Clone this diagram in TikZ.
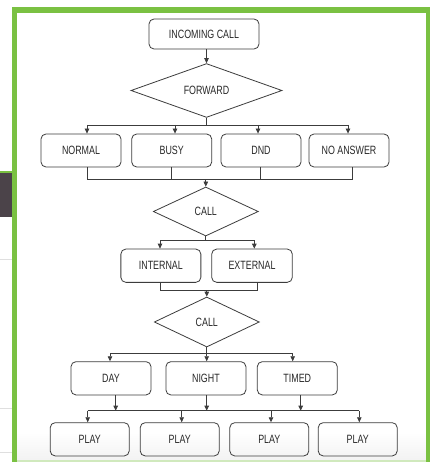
\documentclass[tikz,border=0pt]{standalone}
\usepackage{fontspec}
\newfontfamily\lblfont[FakeStretch=0.74]{Liberation Sans}
\usetikzlibrary{shapes.geometric,arrows.meta}
\definecolor{frameGreen}{RGB}{122,193,66}
\definecolor{darkbox}{RGB}{75,67,73}
\definecolor{linegray}{RGB}{60,60,60}
\definecolor{textgray}{RGB}{40,40,40}
\tikzset{
  lbl/.style={font=\lblfont\fontsize{12}{14}\selectfont, text=textgray},
  box/.style={lbl, draw=linegray, line width=0.8pt, rounded corners=5pt, minimum width=80pt, minimum height=33pt, inner sep=0pt},
  dia/.style={lbl, draw=linegray, line width=0.8pt, shape=diamond, inner sep=0pt},
  conn/.style={draw=linegray, line width=0.8pt},
  arr/.style={conn, -{Triangle[length=5pt,width=4.5pt]}}
}
\begin{document}
\begin{tikzpicture}[x=1pt,y=-1pt]
\useasboundingbox (0,0) rectangle (430,462);
\fill[white] (0,0) rectangle (430,462);
% outside decorations (left)
\fill[darkbox] (0,172.7) rectangle (11.7,217);
\fill[frameGreen] (0,171.5) rectangle (11.7,173);
\draw[gray!25, line width=0.8pt] (0,259) -- (11.7,259);
\draw[gray!25, line width=0.8pt] (0,408) -- (11.7,408);
\draw[gray!25, line width=0.8pt] (0,452.5) -- (11.7,452.5);
% bottom shading inside frame
\shade[top color=white, bottom color=gray!10] (16.7,432) rectangle (425.7,460);
% green frame
\fill[frameGreen] (11.7,7.3) rectangle (430,13.3);
\fill[frameGreen] (11.7,7.3) rectangle (16.7,462);
\fill[frameGreen] (425.7,7.3) rectangle (430,462);
\fill[frameGreen!35] (16.7,460.3) rectangle (425.7,462);

% nodes
\node[box, minimum width=110pt, minimum height=30pt] (inc) at (204,34) {INCOMING CALL};
\node[dia, minimum width=151pt, minimum height=49pt] (d1) at (206.5,90.5) {FORWARD};

\node[box] (normal) at (81,150.5) {NORMAL};
\node[box] (busy) at (171.7,150.5) {BUSY};
\node[box] (dnd) at (261,150.5) {DND};
\node[box] (noans) at (349,150.5) {NO ANSWER};

\node[dia, minimum width=105pt, minimum height=49pt] (d2) at (205.8,211.5) {CALL};

\node[box, minimum height=33.3pt] (internal) at (160.85,265.7) {INTERNAL};
\node[box, minimum height=33.3pt, minimum width=80.6pt] (external) at (252,265.7) {EXTERNAL};

\node[dia, minimum width=105pt, minimum height=50pt] (d3) at (206.8,322) {CALL};

\node[box, minimum height=33.3pt] (day) at (111,378.3) {DAY};
\node[box, minimum height=33.3pt] (night) at (205.9,378.3) {NIGHT};
\node[box, minimum height=33.3pt] (timed) at (297.3,378.3) {TIMED};

\node[box, minimum height=33.3pt, minimum width=79pt] (p1) at (89.7,439.3) {PLAY};
\node[box, minimum height=33.3pt, minimum width=79pt] (p2) at (179.7,439.3) {PLAY};
\node[box, minimum height=33.3pt, minimum width=79pt] (p3) at (269.3,439.3) {PLAY};
\node[box, minimum height=33.3pt, minimum width=79pt] (p4) at (357.7,439.3) {PLAY};

% connectors: incoming -> forward
\draw[arr] (d1.north |- inc.south) -- (d1.north);

% forward -> row 1
\coordinate (b1) at (206.5,125);
\coordinate (t1a) at (87,125);
\coordinate (t1b) at (175,125);
\coordinate (t1c) at (258,125);
\coordinate (t1d) at (348,125);
\draw[conn] (d1.south) -- (b1);
\draw[conn] (t1a) -- (t1d);
\draw[arr] (t1a) -- (t1a |- normal.north);
\draw[arr] (t1b) -- (t1b |- busy.north);
\draw[arr] (t1c) -- (t1c |- dnd.north);
\draw[arr] (t1d) -- (t1d |- noans.north);

% row 1 -> call
\coordinate (u1a) at (87,179.3);
\coordinate (u1b) at (171.7,179.3);
\coordinate (u1c) at (260.7,179.3);
\coordinate (u1d) at (352.7,179.3);
\draw[conn] (u1a |- normal.south) -- (u1a);
\draw[conn] (u1b |- busy.south) -- (u1b);
\draw[conn] (u1c |- dnd.south) -- (u1c);
\draw[conn] (u1d |- noans.south) -- (u1d);
\draw[conn] (u1a) -- (u1d);
\draw[arr] (d2.north |- u1a) -- (d2.north);

% call -> row 2
\coordinate (t2a) at (160,240);
\coordinate (t2b) at (254.3,240);
\draw[conn] (d2.south) -- (d2.south |- t2a);
\draw[conn] (t2a) -- (t2b);
\draw[arr] (t2a) -- (t2a |- internal.north);
\draw[arr] (t2b) -- (t2b |- external.north);

% row 2 -> call
\coordinate (u2a) at (160,290.7);
\coordinate (u2b) at (257.3,290.7);
\draw[conn] (u2a |- internal.south) -- (u2a);
\draw[conn] (u2b |- external.south) -- (u2b);
\draw[conn] (u2a) -- (u2b);
\draw[arr] (d3.north |- u2a) -- (d3.north);

% call -> row 3
\coordinate (t3a) at (110,353.3);
\coordinate (t3b) at (206.7,353.3);
\coordinate (t3c) at (292.7,353.3);
\draw[conn] (d3.south) -- (d3.south |- t3a);
\draw[conn] (t3a) -- (t3c);
\draw[arr] (t3a) -- (t3a |- day.north);
\draw[arr] (t3b) -- (t3b |- night.north);
\draw[arr] (t3c) -- (t3c |- timed.north);

% row 3 -> play
\coordinate (u3a) at (115.7,410.7);
\coordinate (u3b) at (206.7,410.7);
\coordinate (u3c) at (300.7,410.7);
\draw[arr] (u3a |- day.south) -- (u3a);
\draw[arr] (u3b |- night.south) -- (u3b);
\draw[arr] (u3c |- timed.south) -- (u3c);
\coordinate (t4a) at (87.7,410.7);
\coordinate (t4b) at (181.7,410.7);
\coordinate (t4c) at (271,410.7);
\coordinate (t4d) at (359.3,410.7);
\draw[conn] (t4a) -- (t4d);
\draw[arr] (t4a) -- (t4a |- p1.north);
\draw[arr] (t4b) -- (t4b |- p2.north);
\draw[arr] (t4c) -- (t4c |- p3.north);
\draw[arr] (t4d) -- (t4d |- p4.north);
\end{tikzpicture}
\end{document}
